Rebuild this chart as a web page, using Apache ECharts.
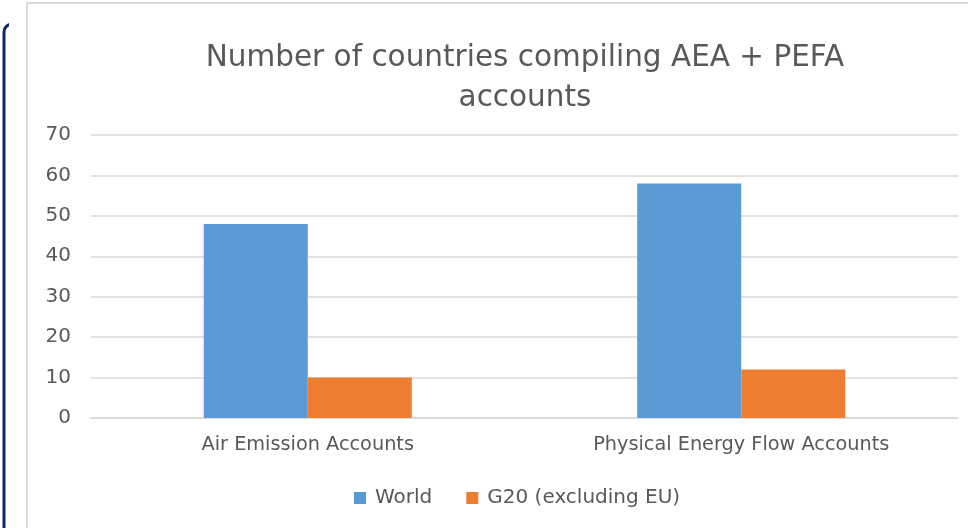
<!DOCTYPE html>
<html>
<head>
<meta charset="utf-8">
<script src="https://cdn.jsdelivr.net/npm/echarts@6/dist/echarts.min.js"></script>
<style>
  html, body { margin: 0; padding: 0; background: #fff; }
  #chart { width: 968px; height: 528px; }
</style>
</head>
<body>
<div id="chart"></div>
<script>
    // data
    var categories = ['Air Emission Accounts', 'Physical Energy Flow Accounts'];
    var worldValues = [48, 58];
    var g20Values = [10, 12];
    var seriesNames = ['World', 'G20 (excluding EU)'];

    var textColor = '#595959';
    var fontName = '"DejaVu Sans", sans-serif';

    var chart = echarts.init(document.getElementById('chart'));
    chart.setOption({
        animation: false,
        color: ['#5b9bd5', '#ed7d31'],
        graphic: [
            // navy frame peeking out on the left
            {type: 'rect', z: -10, shape: {x: 4, y: 24, width: 80, height: 600, r: 8},
                style: {fill: 'none', stroke: '#10286a', lineWidth: 3}},
            {type: 'rect', z: -9, shape: {x: 9, y: 0, width: 959, height: 528},
                style: {fill: '#fff'}},
            // chart panel border
            {type: 'rect', z: -8, shape: {x: 27, y: 3, width: 960, height: 560},
                style: {fill: 'none', stroke: '#d9d9d9', lineWidth: 2}}
        ],
        title: {
            text: 'Number of countries compiling AEA + PEFA\naccounts',
            left: 525,
            textAlign: 'center',
            top: 38,
            padding: 0,
            textStyle: {
                color: textColor,
                fontFamily: fontName,
                fontWeight: 'normal',
                fontSize: 29.5,
                lineHeight: 40
            }
        },
        legend: {
            data: seriesNames,
            left: 349,
            top: 483,
            itemWidth: 12,
            itemHeight: 12,
            itemGap: 34,
            icon: 'rect',
            textStyle: {color: textColor, fontFamily: fontName, fontSize: 20, padding: [0, 0, 0, 4]}
        },
        grid: {
            left: 91,
            right: 10,
            top: 135,
            bottom: 110,
            containLabel: false
        },
        xAxis: {
            type: 'category',
            data: categories,
            axisTick: {show: false},
            axisLine: {lineStyle: {color: '#d9d9d9', width: 1.5}},
            axisLabel: {color: textColor, fontFamily: fontName, fontSize: 19.3, margin: 17}
        },
        yAxis: {
            type: 'value',
            min: 0,
            max: 70,
            interval: 10,
            axisLine: {show: false},
            axisTick: {show: false},
            axisLabel: {color: textColor, fontFamily: fontName, fontSize: 20, margin: 20},
            splitLine: {lineStyle: {color: '#d9d9d9', width: 1.5}}
        },
        series: [
            {
                name: seriesNames[0],
                type: 'bar',
                data: worldValues,
                barGap: '0%',
                barCategoryGap: '52%'
            },
            {
                name: seriesNames[1],
                type: 'bar',
                data: g20Values
            }
        ]
    });
</script>
</body>
</html>
